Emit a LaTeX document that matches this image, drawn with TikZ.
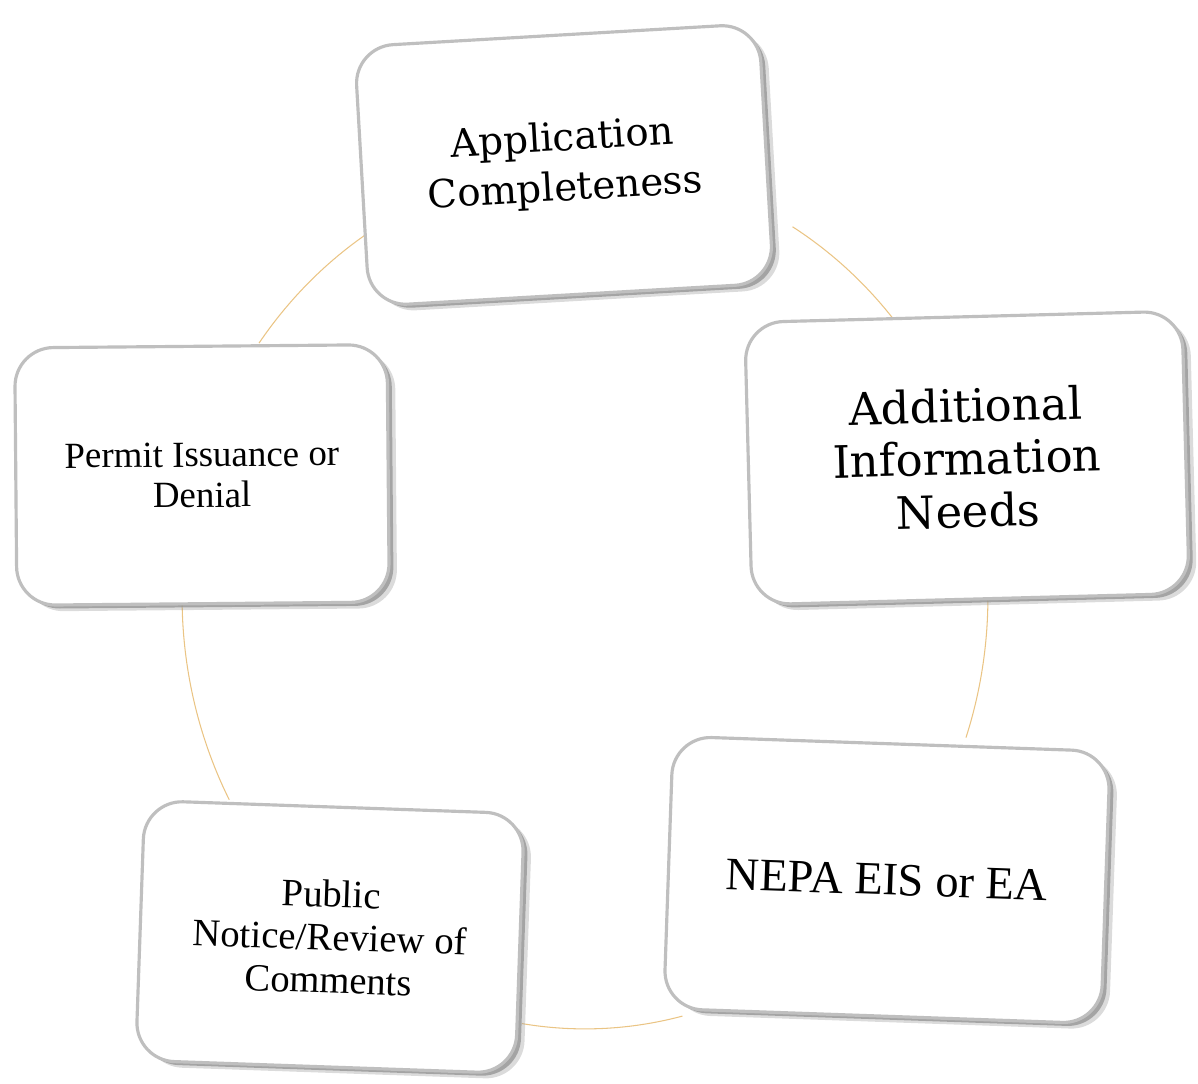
\documentclass[tikz,border=0pt]{standalone}
\usepackage{fontspec}
\setmainfont{Liberation Serif}
\newfontfamily\wideserif{DejaVu Serif}
\usetikzlibrary{shadows, calc}
\definecolor{ringcol}{RGB}{234,196,132}

\begin{document}
\begin{tikzpicture}[x=0.02cm, y=0.02cm]
    \tikzset{
        cbox/.style={draw=gray!50, line width=1.8pt, fill=white, rounded corners=22pt, align=center, inner sep=0pt,
            drop shadow={shadow xshift=2.5pt, shadow yshift=-2pt, opacity=0.7, fill=gray!95},
            drop shadow={shadow xshift=4.5pt, shadow yshift=-3.5pt, opacity=0.35, fill=gray!80}},
        ring/.style={draw=ringcol, line width=0.6pt},
    }
    \useasboundingbox (0,0) rectangle (1198,1084);

    % ring behind the boxes
    \coordinate (ctr) at (585,487);
    \coordinate (r1) at ($(ctr)+(144:8.06cm and 8.64cm)$);
    \coordinate (r2) at ($(ctr)+(59:8.06cm and 8.64cm)$);
    \coordinate (r3) at ($(ctr)+(0:8.06cm and 8.64cm)$);
    \coordinate (r4) at ($(ctr)+(-76:8.06cm and 8.64cm)$);
    \coordinate (r5) at ($(ctr)+(208:8.06cm and 8.64cm)$);
    \draw[ring] (r1) arc[start angle=144, end angle=122, x radius=8.06cm, y radius=8.64cm];
    \draw[ring] (r2) arc[start angle=59, end angle=40, x radius=8.06cm, y radius=8.64cm];
    \draw[ring] (r3) arc[start angle=0, end angle=-19, x radius=8.06cm, y radius=8.64cm];
    \draw[ring] (r4) arc[start angle=-76, end angle=-99, x radius=8.06cm, y radius=8.64cm];
    \draw[ring] (r5) arc[start angle=208, end angle=180, x radius=8.06cm, y radius=8.64cm];

    \node[cbox, minimum width=8.1cm, minimum height=5.2cm, rotate=3.3,
          font=\wideserif\fontsize{22}{28.5}\selectfont] (c1) at (564,919) {Application\\Completeness};
    \node[cbox, minimum width=8.75cm, minimum height=5.65cm, rotate=1.5,
          font=\wideserif\fontsize{25.5}{30}\selectfont] (c2) at (967,626) {Additional\\Information\\Needs};
    \node[cbox, minimum width=8.75cm, minimum height=5.45cm, rotate=-2,
          font=\fontsize{26.4}{30}\selectfont] (c3) at (887,204) {NEPA EIS or EA};
    \node[cbox, minimum width=7.6cm, minimum height=5.2cm, rotate=-2,
          font=\fontsize{22}{24.5}\selectfont] (c4) at (330,147) {Public\\Notice/Review of\\Comments};
    \node[cbox, minimum width=7.45cm, minimum height=5.15cm, rotate=0.5,
          font=\fontsize{21}{23}\selectfont] (c5) at (202,609) {Permit Issuance or\\Denial};
\end{tikzpicture}
\end{document}
